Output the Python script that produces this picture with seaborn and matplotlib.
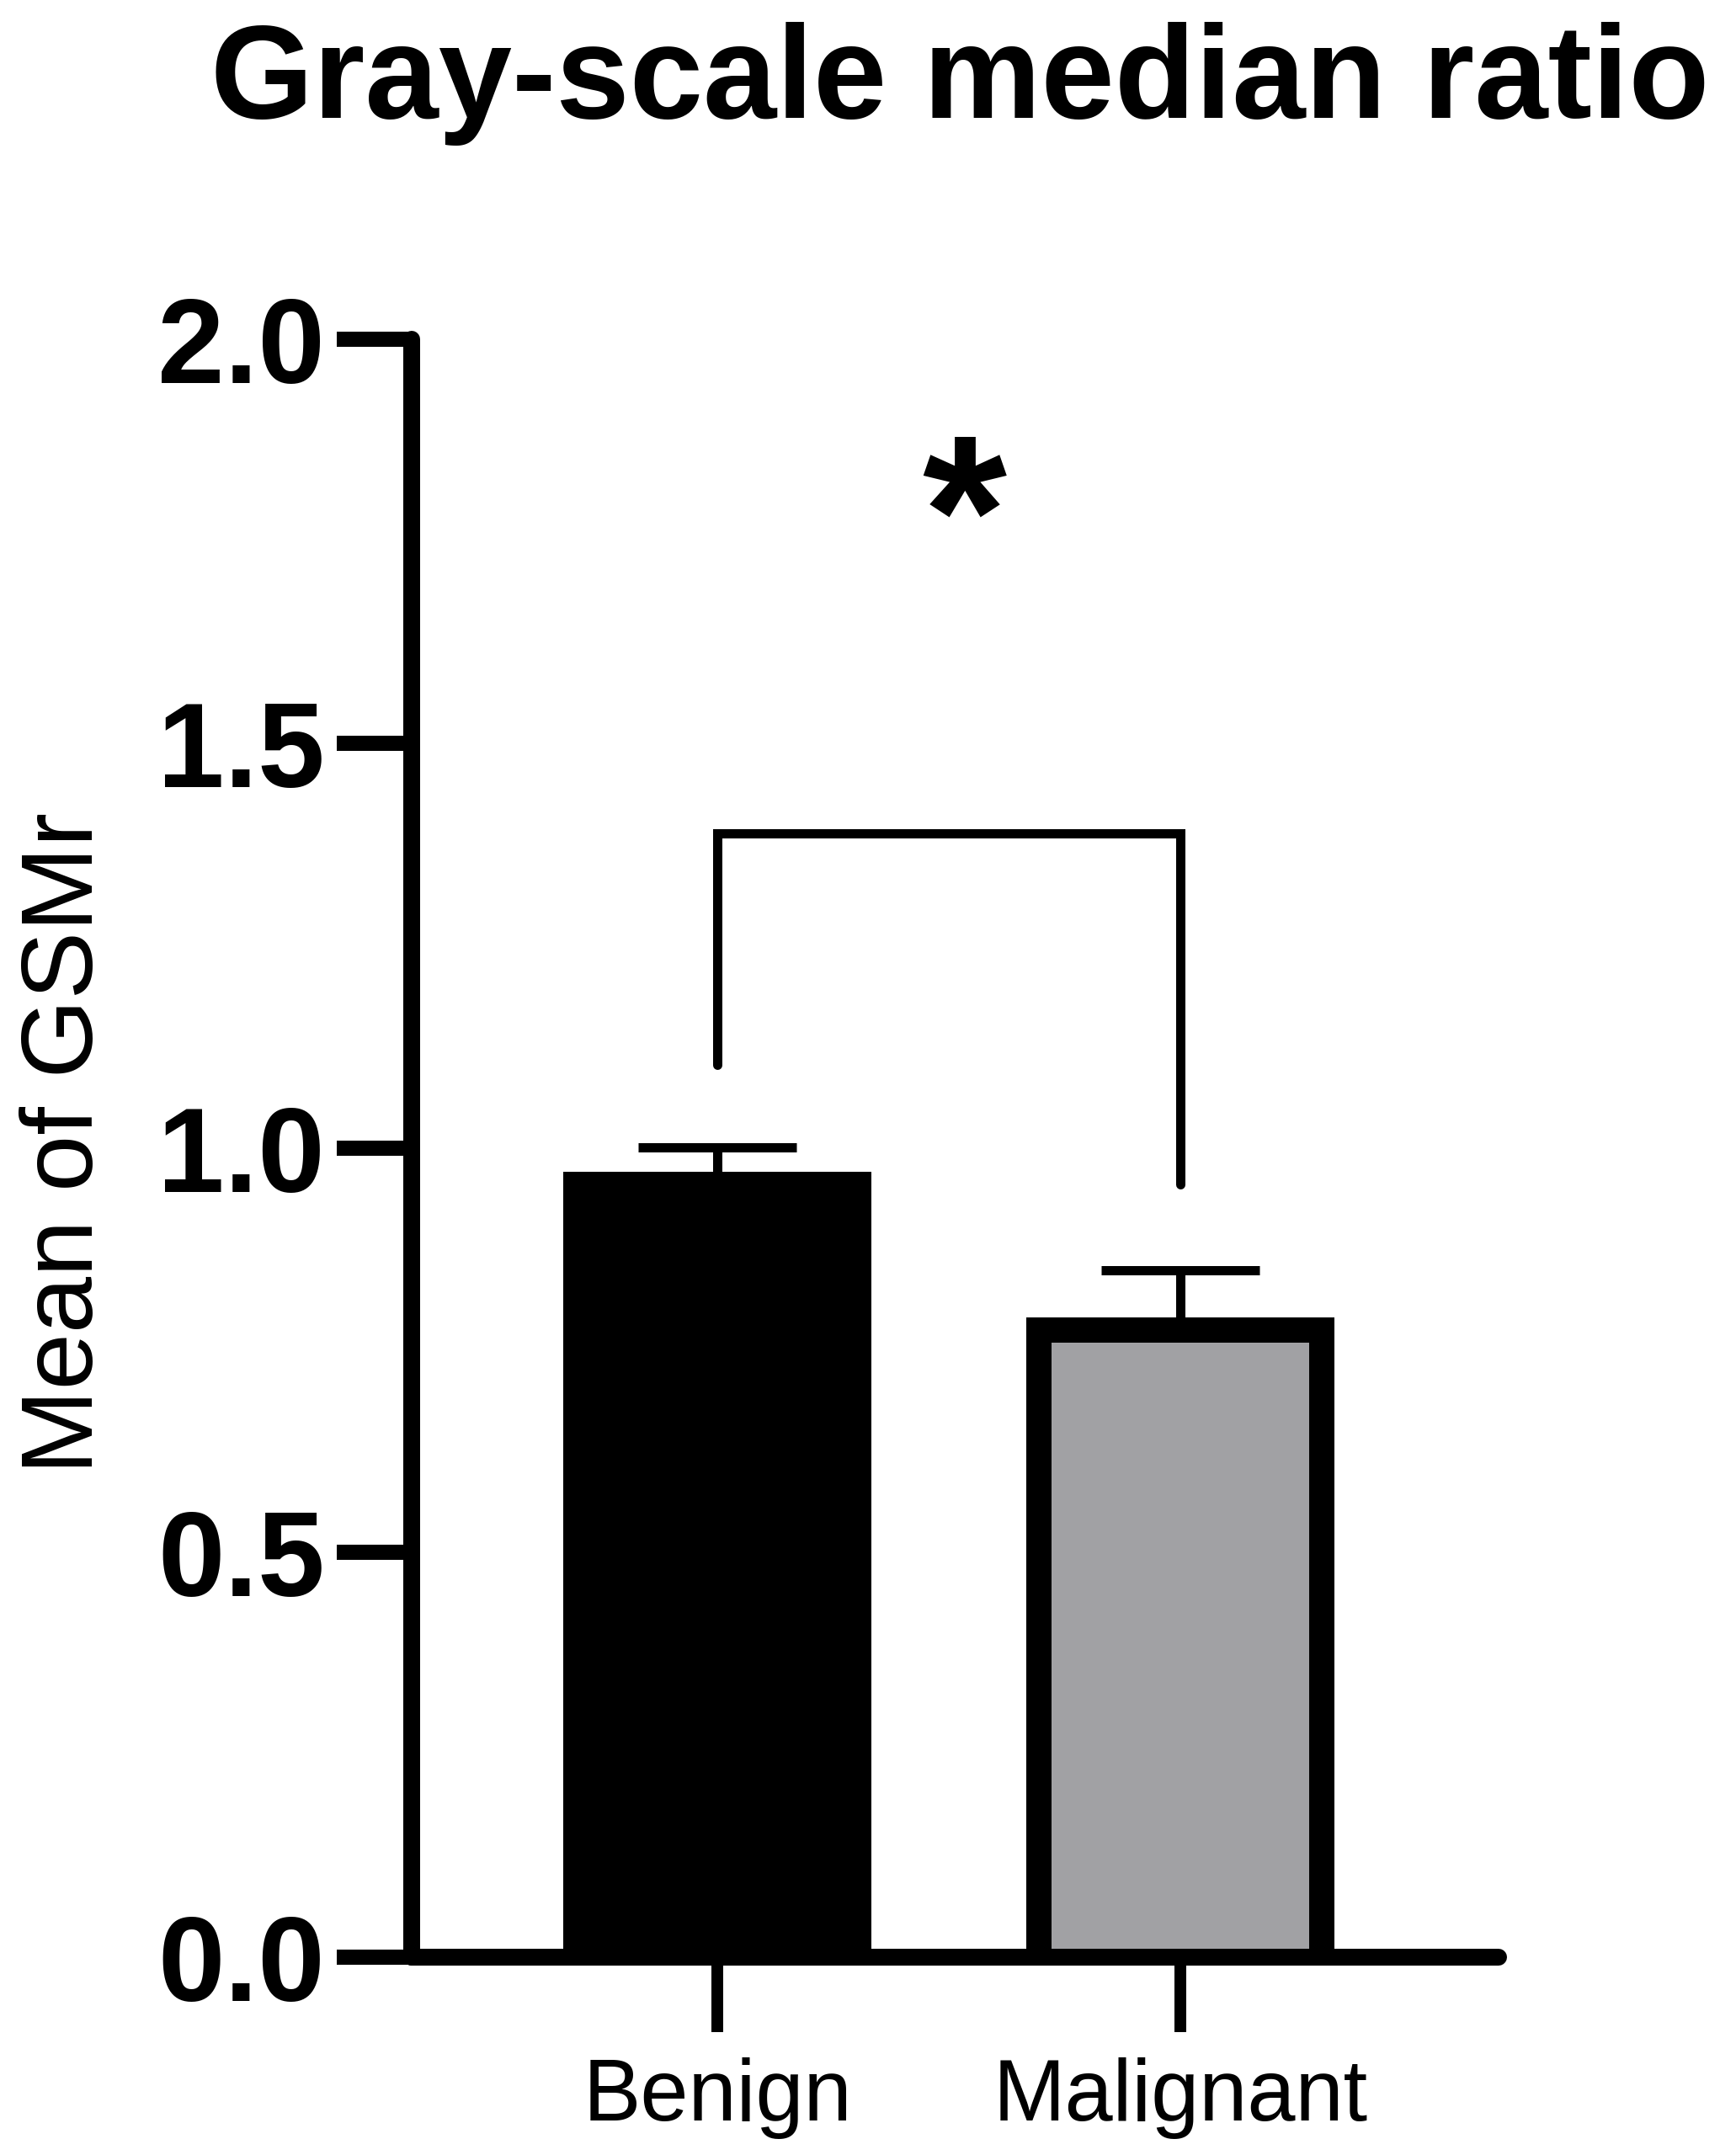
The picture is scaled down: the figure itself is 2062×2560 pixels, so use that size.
import matplotlib
matplotlib.use("Agg")
import matplotlib.pyplot as plt
import seaborn as sns
import pandas as pd

# ---------------------------------------------------------
# Data
# ---------------------------------------------------------
groups = ["Benign", "Malignant"]
means = [0.955, 0.775]
sems = [0.046, 0.074]
bar_colors = ["#000000", "#a1a0a5"]

# significance bracket: left leg bottom, top, right leg bottom
bracket_y = [1.103, 1.389, 1.389, 0.955]
star_label = "*"
star_pos = (0.533, 1.696)

y_ticks = [0.0, 0.5, 1.0, 1.5, 2.0]
y_tick_labels = ["0.0", "0.5", "1.0", "1.5", "2.0"]

title = "Gray-scale median ratio"
y_label = "Mean of GSMr"

# ---------------------------------------------------------
# Style
# ---------------------------------------------------------
sns.set_style("ticks")
plt.rcParams["font.family"] = ["Liberation Sans", "DejaVu Sans"]
plt.rcParams["text.color"] = "black"

DPI = 100
PX = 72.0 / DPI  # points per pixel

fig = plt.figure(figsize=(20.62, 25.6), dpi=DPI)
ax = fig.add_axes([0.23715, 0.0918, 0.62609, 0.75097])

df = pd.DataFrame({"group": groups, "mean": means})
sns.barplot(data=df, x="group", y="mean", hue="group", palette=bar_colors,
            width=0.61, edgecolor="black", linewidth=30 * PX,
            errorbar=None, legend=False, ax=ax)

# push the bar bottoms below the axis so the bottom edge is hidden (clipped)
for p in ax.patches:
    p.set_y(-0.05)
    p.set_height(p.get_height() + 0.05)

# error bars (upper only, Prism style)
ax.errorbar(range(len(groups)), means, yerr=[[0] * len(sems), sems],
            fmt="none", ecolor="black", elinewidth=11 * PX,
            capsize=94 * PX, capthick=11 * PX, zorder=0.5)

# significance bracket
ax.plot([0, 0, 1, 1], bracket_y, color="black", lw=11 * PX,
        solid_joinstyle="miter", solid_capstyle="round")
ax.text(star_pos[0], star_pos[1], star_label, ha="center", va="baseline",
        fontsize=185, fontweight="bold", color="black")

ax.set_xlim(-0.66, 1.687)
ax.set_ylim(0, 2)
ax.set_yticks(y_ticks)
ax.set_yticklabels(y_tick_labels, fontsize=103, fontweight="bold")
ax.set_xticks(range(len(groups)))
ax.set_xticklabels(groups, fontsize=74)
ax.set_xlabel("")
ax.set_ylabel("")

for side in ["top", "right"]:
    ax.spines[side].set_visible(False)
for side in ["left", "bottom"]:
    ax.spines[side].set_linewidth(20 * PX)
    ax.spines[side].set_capstyle("round")
    ax.spines[side].set_color("black")

ax.tick_params(axis="y", direction="out", length=64, width=18 * PX,
               pad=10, colors="black")
ax.tick_params(axis="x", direction="out", length=64, width=14 * PX,
               pad=22, colors="black")

fig.text(0.5530, 0.9453, title, ha="center", va="baseline",
         fontsize=113, fontweight="bold", color="black")
fig.text(0.0383, 0.4695, y_label, rotation=90, ha="center", va="center",
         fontsize=87, color="black")

fig.savefig("out.png", dpi=DPI, facecolor="white")
